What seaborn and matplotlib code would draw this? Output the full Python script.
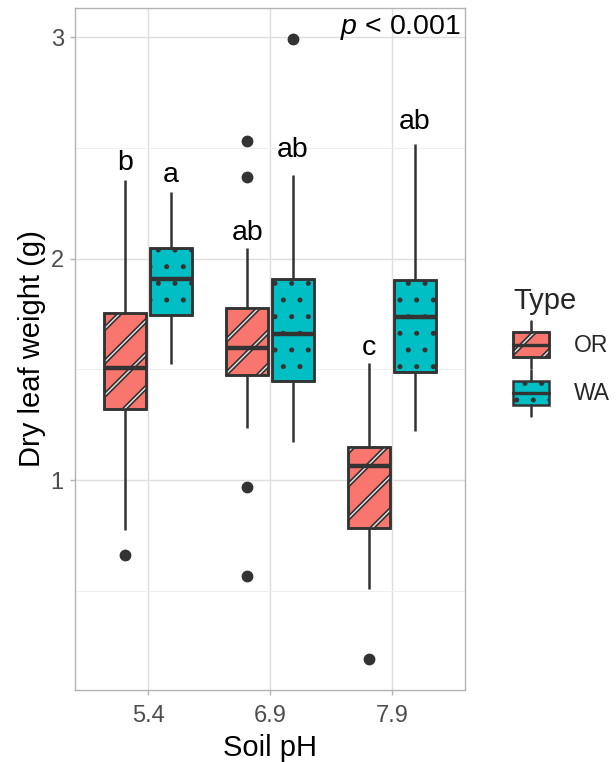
import numpy as np
import pandas as pd
import matplotlib
matplotlib.use("Agg")
import matplotlib.pyplot as plt
import seaborn as sns
from matplotlib.patches import PathPatch, Rectangle, Patch
from matplotlib.lines import Line2D
from matplotlib.legend_handler import HandlerBase

# values (g)
ph_levels = ["5.4", "6.9", "7.9"]
types = ["OR", "WA"]
box_ph = ["5.4", "5.4", "6.9", "6.9", "7.9", "7.9"]
box_type = ["OR", "WA", "OR", "WA", "OR", "WA"]
whisk_lo = [0.774, 1.524, 1.235, 1.172, 0.508, 1.221]
q1 = [1.321, 1.745, 1.474, 1.447, 0.783, 1.488]
median = [1.506, 1.907, 1.596, 1.659, 1.063, 1.736]
q3 = [1.754, 2.047, 1.777, 1.907, 1.149, 1.903]
whisk_hi = [2.354, 2.300, 2.047, 2.380, 1.528, 2.520]
out_lo = [[0.660], [], [0.968, 0.567], [], [0.192], []]
out_hi = [[], [], [2.530, 2.368], [2.990], [], []]

letters = ["b", "a", "ab", "ab", "c", "ab"]
letter_y = [2.431, 2.377, 2.115, 2.490, 1.596, 2.616]

colors = {"OR": "#F8766D", "WA": "#00BFC4"}
line_col = "#333333"


def box_sample(lo, a, m, b, hi, olo, ohi):
    # ranked values so that the quartiles fall on the read numbers
    k = max(len(olo), len(ohi)) + 1
    vals = sorted(olo) + [lo] + [a] * (k - len(olo))
    vals += [m] * k
    vals += [b] * k
    vals += [b] * (k - 1 - len(ohi)) + [hi] + sorted(ohi)
    return vals


rows = []
for i in range(len(box_ph)):
    for v in box_sample(whisk_lo[i], q1[i], median[i], q3[i], whisk_hi[i], out_lo[i], out_hi[i]):
        rows.append({"ph": box_ph[i], "type": box_type[i], "weight": v})
df = pd.DataFrame(rows)

sns.set_theme(style="white")
plt.rcParams["font.family"] = ["Liberation Sans", "DejaVu Sans"]
plt.rcParams["mathtext.fontset"] = "custom"
plt.rcParams["mathtext.it"] = "Liberation Sans:italic"
plt.rcParams["mathtext.rm"] = "Liberation Sans"

fig = plt.figure(figsize=(6.16, 7.62), dpi=100)
ax = fig.add_axes([75 / 616, 72 / 762, 390 / 616, 682 / 762])

sns.boxplot(data=df, x="ph", y="weight", hue="type", order=ph_levels, hue_order=types,
            palette=colors, saturation=1, width=0.75, gap=0.08, linecolor=line_col,
            linewidth=1.8, whis=1.5, legend=False, ax=ax,
            medianprops={"linewidth": 3.2},
            capprops={"linewidth": 0},
            flierprops={"marker": "o", "markersize": 7.5, "markerfacecolor": line_col,
                        "markeredgecolor": line_col})


def set_hlw(p, lw):
    if hasattr(p, "set_hatch_linewidth"):
        p.set_hatch_linewidth(lw)


# patterns: stripes for OR, dots for WA
for p in list(ax.patches):
    fc = matplotlib.colors.to_hex(p.get_facecolor())
    z = p.get_zorder()
    if fc.lower() == colors["OR"].lower():
        p.set_hatch("/")
        set_hlw(p, 3.4)
        over = PathPatch(p.get_path(), transform=p.get_transform(), facecolor="none",
                         edgecolor="#E6E6E6", lw=0, hatch="/", zorder=z + 0.01)
        set_hlw(over, 1.0)
        ax.add_patch(over)
    else:
        p.set_hatch(".")
        set_hlw(p, 1.2)
    edge = PathPatch(p.get_path(), transform=p.get_transform(), facecolor="none",
                     edgecolor=line_col, lw=1.8, zorder=z + 0.02)
    ax.add_patch(edge)

# significance letters
for i in range(len(letters)):
    xi = ph_levels.index(box_ph[i]) + (-0.1875 if box_type[i] == "OR" else 0.1875)
    ax.text(xi, letter_y[i], letters[i], ha="center", va="center", fontsize=20.5, color="black")

ax.text(0.99, 0.972, r"$p$ < 0.001", transform=ax.transAxes, ha="right", va="center",
        fontsize=20.5, color="black")

ax.set_xlim(-0.6, 2.6)
ax.set_ylim(0.052, 3.132)
ax.set_yticks([1, 2, 3])
ax.set_yticks([0.5, 1.5, 2.5], minor=True)
ax.grid(True, which="major", color="#DEDEDE", linewidth=1.0)
ax.grid(True, which="minor", axis="y", color="#EFEFEF", linewidth=0.7)
ax.set_axisbelow(True)
for s in ax.spines.values():
    s.set_color("#B3B3B3")
    s.set_linewidth(1.0)
ax.tick_params(axis="both", which="major", length=3.6, width=1.0, color="#B3B3B3",
               labelsize=17, labelcolor="#4D4D4D", pad=4.5, left=True, bottom=True)
ax.tick_params(axis="x", which="major", pad=7)
ax.tick_params(axis="y", which="minor", length=0)
ax.set_xlabel("Soil pH", fontsize=21, color="black", labelpad=5)
ax.set_ylabel("Dry leaf weight (g)", fontsize=21, color="black", labelpad=3)


class BoxKey(HandlerBase):
    # small boxplot glyph for the legend keys
    def create_artists(self, legend, orig, xd, yd, w, h, fontsize, trans):
        x0, y0 = -xd, -yd
        fc = orig.get_facecolor()
        hatch = orig.get_hatch()
        top, bot = y0 + 0.82 * h, y0 + 0.18 * h
        arts = []
        rect = Rectangle((x0, bot), w, top - bot, facecolor=fc, edgecolor=line_col,
                         lw=1.8, hatch=hatch, transform=trans)
        set_hlw(rect, 3.4 if hatch == "/" else 1.2)
        arts.append(rect)
        if hatch == "/":
            ov = Rectangle((x0, bot), w, top - bot, facecolor="none", edgecolor="#E6E6E6",
                           lw=0, hatch="/", transform=trans)
            set_hlw(ov, 1.0)
            arts.append(ov)
            arts.append(Rectangle((x0, bot), w, top - bot, facecolor="none",
                                  edgecolor=line_col, lw=1.8, transform=trans))
        cx = x0 + w / 2
        arts.append(Line2D([cx, cx], [top, y0 + h * 1.1], color=line_col, lw=1.8,
                           transform=trans))
        arts.append(Line2D([cx, cx], [y0 - h * 0.1, bot], color=line_col, lw=1.8,
                           transform=trans))
        arts.append(Line2D([x0, x0 + w], [y0 + h / 2] * 2, color=line_col, lw=2.4,
                           transform=trans))
        return arts


handles = [Patch(facecolor=colors["OR"], hatch="/"), Patch(facecolor=colors["WA"], hatch=".")]
leg = fig.legend(handles, types, title="Type", loc="upper left",
                 bbox_to_anchor=(513 / 616, 1 - 287 / 762), frameon=False,
                 fontsize=16.5, title_fontsize=21, handlelength=1.57, handleheight=2.2,
                 labelspacing=0.45, handletextpad=1.1, borderpad=0, borderaxespad=0,
                 alignment="left", handler_map={Patch: BoxKey()})

fig.savefig("out.png", dpi=100)
